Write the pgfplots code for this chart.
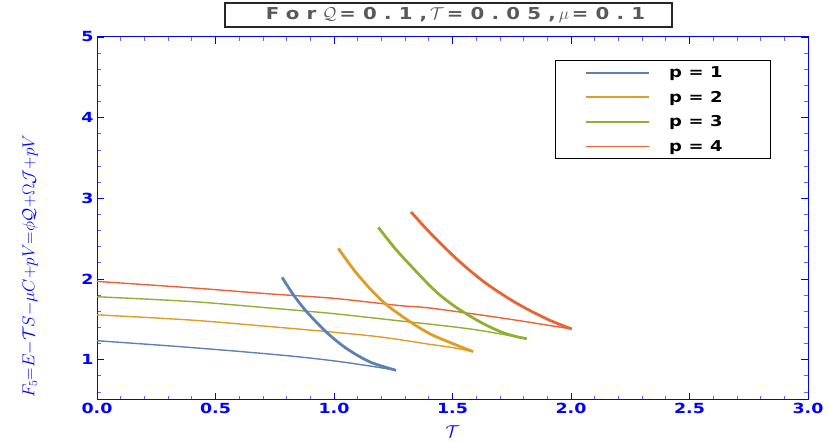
\documentclass[border=0pt]{standalone}
\usepackage{fontspec}
\usepackage{pgfplots}
\pgfplotsset{compat=1.18}
\newfontfamily\wide[FakeStretch=1.25]{DejaVu Sans}
\newfontfamily\spaced[FakeStretch=1.2,LetterSpace=44]{DejaVu Sans}
\definecolor{c1}{HTML}{5E81B5}
\definecolor{c2}{HTML}{E19C24}
\definecolor{c3}{HTML}{8FB032}
\definecolor{c4}{HTML}{EB6235}
\definecolor{ax}{HTML}{0000FF}

\begin{document}
\begin{tikzpicture}
\begin{axis}[
    scale only axis,
    width=711bp, height=363bp,
    xmin=0, xmax=3, ymin=0.5, ymax=5,
    xtick={0,0.5,...,3}, ytick={1,2,3,4,5},
    minor xtick={0,0.1,...,3},
    minor ytick={0.6,0.8,...,4.8},
    xticklabel style={/pgf/number format/fixed,/pgf/number format/fixed zerofill,/pgf/number format/precision=1},
    /pgf/number format/assume math mode=true,
    ticklabel style={font=\fontsize{14}{16}\selectfont\wide\bfseries, text=ax},
    axis line style={ax, line width=1pt},
    major tick style={ax, line width=0.8pt},
    minor tick style={ax!60, line width=0.8pt},
    major tick length=7bp, minor tick length=4bp,
    xlabel={$\mathcal{T}$},
    xlabel style={at={(axis description cs:0.5,-0.088)}, anchor=center, text=ax, font=\fontsize{17}{19}\selectfont},
    ylabel={$F_5{=}E{-}\mathcal{T}S{-}\mu C{+}pV{=}\phi\mathcal{Q}{+}\Omega\mathcal{J}{+}pV$},
    ylabel style={at={(axis description cs:-0.094,0.369)}, anchor=center, text=ax, font=\fontsize{16.5}{18}\selectfont},
    legend style={at={(axis description cs:0.644,0.937)}, anchor=north west,
        draw=black, line width=1.5pt, inner xsep=30bp, inner ysep=4bp,
        font=\fontsize{15}{17}\selectfont\spaced\bfseries, row sep=8bp},
    legend cell align=left,
    legend image code/.code={\draw[#1, line width=1.6pt] (0bp,0bp) -- (63bp,0bp); \path (80bp,0bp);},
]
% thin branches
\addplot[c1, line width=1.4pt, smooth] coordinates {
    (0,1.235) (0.3,1.172) (0.56,1.112) (0.814,1.046) (1.0,0.985) (1.15,0.922) (1.262,0.868)};
\addlegendentry{p=1\rule{16bp}{0pt}}
\addplot[c2, line width=1.4pt, smooth] coordinates {
    (0,1.556) (0.4,1.49) (0.73,1.41) (1.0,1.34) (1.2,1.28) (1.405,1.19) (1.5,1.15) (1.587,1.10)};
\addlegendentry{p=2\rule{16bp}{0pt}}
\addplot[c3, line width=1.4pt, smooth] coordinates {
    (0,1.78) (0.4,1.72) (0.73,1.64) (1.0,1.57) (1.278,1.48) (1.405,1.44) (1.6,1.37) (1.813,1.26)};
\addlegendentry{p=3\rule{16bp}{0pt}}
\addplot[c4, line width=1.4pt, smooth] coordinates {
    (0,1.97) (0.4,1.89) (0.73,1.815) (1.0,1.76) (1.278,1.67) (1.405,1.64) (1.7,1.52) (2.003,1.38)};
\addlegendentry{p=4\rule{16bp}{0pt}}
% thick branches
\addplot[c1, line width=2.8pt, smooth, forget plot] coordinates {
    (0.781,2.02) (0.832,1.79) (0.886,1.59) (0.968,1.34) (1.054,1.136) (1.153,0.97) (1.262,0.868)};
\addplot[c2, line width=2.8pt, smooth, forget plot] coordinates {
    (1.018,2.38) (1.082,2.12) (1.152,1.88) (1.222,1.68) (1.321,1.47) (1.405,1.32) (1.5,1.20) (1.587,1.10)};
\addplot[c3, line width=2.8pt, smooth, forget plot] coordinates {
    (1.187,2.64) (1.26,2.37) (1.335,2.13) (1.40,1.93) (1.447,1.80) (1.5,1.68) (1.546,1.59)
    (1.6,1.495) (1.644,1.425) (1.7,1.35) (1.728,1.32) (1.77,1.285) (1.813,1.26)};
\addplot[c4, line width=2.8pt, smooth, forget plot] coordinates {
    (1.325,2.83) (1.419,2.53) (1.532,2.21) (1.644,1.94) (1.77,1.70) (1.883,1.525) (1.95,1.44) (2.003,1.38)};
\end{axis}
\node[draw=black!85, line width=1.2pt, fill=white, minimum width=447bp, minimum height=24bp,
      text=black!65, font=\fontsize{16.5}{18}\selectfont\spaced\bfseries]
  at ([xshift=-4bp,yshift=22bp]current axis.north)
  {\kern14bp For\kern6bp$\mathcal{Q}$\kern3bp=0.1,\kern3bp$\mathcal{T}$\kern3bp=0.05,\kern3bp$\mu$\kern3bp=0.1};
\pgfresetboundingbox
\path ([xshift=-97bp,yshift=-42bp]current axis.south west) rectangle ([xshift=22bp,yshift=37bp]current axis.north east);
\end{tikzpicture}
\end{document}
